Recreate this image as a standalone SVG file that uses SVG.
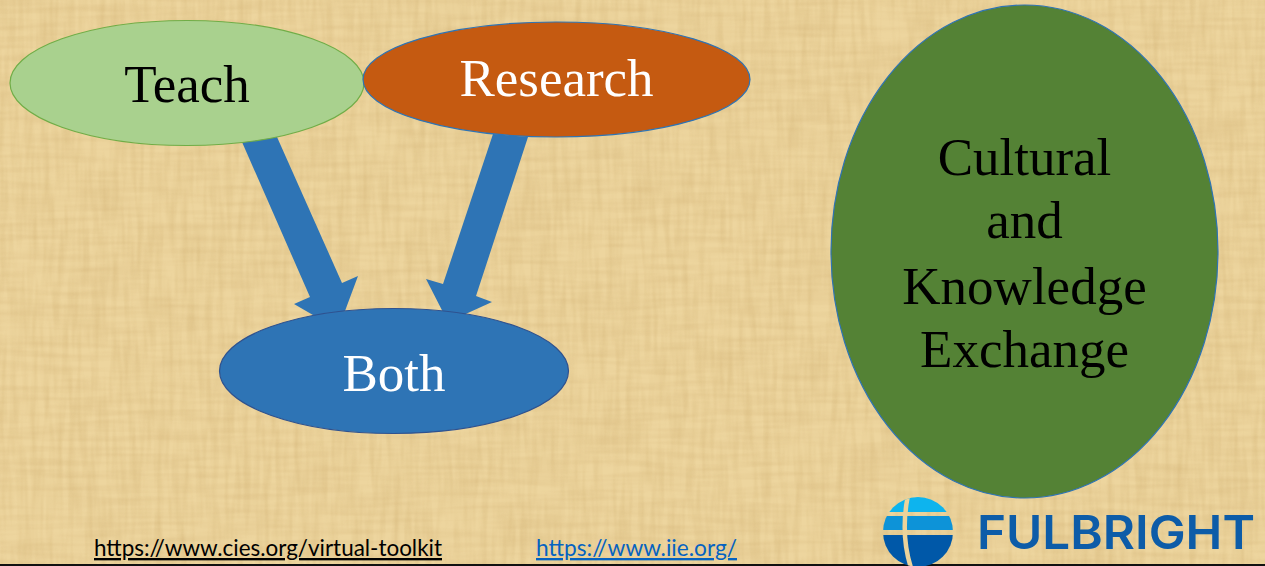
<svg xmlns="http://www.w3.org/2000/svg" width="1265" height="566" viewBox="0 0 1265 566">
<style>
.serif{font-family:"Liberation Serif","Times New Roman",serif;font-size:53px;text-anchor:middle}
.link{font-family:Lato,"Open Sans","Liberation Sans",sans-serif;font-size:23.500px;text-decoration:underline}
.arrow{fill:#2e74b5}
</style>
<defs>
<filter id="grainV" x="0" y="0" width="100%" height="100%" color-interpolation-filters="sRGB">
<feTurbulence type="fractalNoise" baseFrequency="0.16 0.018" numOctaves="2" seed="7" stitchTiles="stitch"/>
<feColorMatrix type="matrix" values="0 0 0 0 0.76  0 0 0 0 0.62  0 0 0 0 0.36  1.2 0 0 0 -0.42"/>
</filter>
<filter id="grainH" x="0" y="0" width="100%" height="100%" color-interpolation-filters="sRGB">
<feTurbulence type="fractalNoise" baseFrequency="0.014 0.16" numOctaves="2" seed="11" stitchTiles="stitch"/>
<feColorMatrix type="matrix" values="0 0 0 0 0.78  0 0 0 0 0.64  0 0 0 0 0.40  1.2 0 0 0 -0.42"/>
</filter>
<filter id="soft" x="-5%" y="-5%" width="110%" height="110%"><feGaussianBlur stdDeviation="0.600"/></filter>
<clipPath id="globe"><circle cx="918" cy="532" r="35"/></clipPath>
</defs>
<g id="background">
<rect width="1265" height="566" fill="#edd59e"/>
<rect width="1265" height="566" filter="url(#grainV)" opacity="0.35"/>
<rect width="1265" height="566" filter="url(#grainH)" opacity="0.30"/>
<rect y="564" width="1265" height="2" fill="#111"/>
</g>
<g id="connectors">
<polygon class="arrow" points="242,142 277,137 342,283 358,276 345,311 325,322 294,304 310,297"/>
<polygon class="arrow" points="493,134 528,137 476,296 492,302 448,322 426,279 443,284"/>
</g>
<g id="node-teach">
<ellipse cx="187" cy="83" rx="177" ry="62.500" fill="#a9d18e" stroke="#70ad47" stroke-width="1.200"/>
<text class="serif" x="187" y="102">Teach</text>
</g>
<g id="node-research">
<ellipse cx="556.500" cy="79.500" rx="193.500" ry="57.500" fill="#c55a11" stroke="#2e74b5" stroke-width="1.200"/>
<text class="serif" x="556.500" y="96" fill="#fff">Research</text>
</g>
<g id="node-both">
<ellipse cx="394" cy="371" rx="174.500" ry="62.500" fill="#2e74b5" stroke="#2f528f" stroke-width="1.200"/>
<text class="serif" x="394" y="391" fill="#fff">Both</text>
</g>
<g id="node-exchange">
<ellipse cx="1024.500" cy="251.500" rx="193.500" ry="246.500" fill="#548235" stroke="#2e74b5" stroke-width="1.200"/>
<text class="serif" x="1024.500" y="175">Cultural</text>
<text class="serif" x="1024.500" y="238">and</text>
<text class="serif" x="1024.500" y="304">Knowledge</text>
<text class="serif" x="1024.500" y="367">Exchange</text>
</g>
<g id="links">
<text class="link" x="94" y="556" fill="#000" textLength="348" lengthAdjust="spacingAndGlyphs">https://www.cies.org/virtual-toolkit</text>
<text class="link" x="536" y="556" fill="#0563c1" textLength="201" lengthAdjust="spacingAndGlyphs">https://www.iie.org/</text>
</g>
<g id="logo" filter="url(#soft)">
<g clip-path="url(#globe)">
<rect x="883" y="497" width="70" height="15" fill="#0db4ee"/>
<rect x="883" y="516" width="70" height="14" fill="#0a93d8"/>
<rect x="883" y="535" width="70" height="33" fill="#0559a8"/>
<path d="M908,495 C904,515 902,540 911,568" fill="none" stroke="#ecd39b" stroke-width="4.500"/>
</g>
<text x="977" y="549" font-family="Inter,Open Sans,Liberation Sans,sans-serif" font-weight="600" font-size="47" fill="#0b5ba8" textLength="278" lengthAdjust="spacingAndGlyphs">FULBRIGHT</text>
</g>
</svg>
